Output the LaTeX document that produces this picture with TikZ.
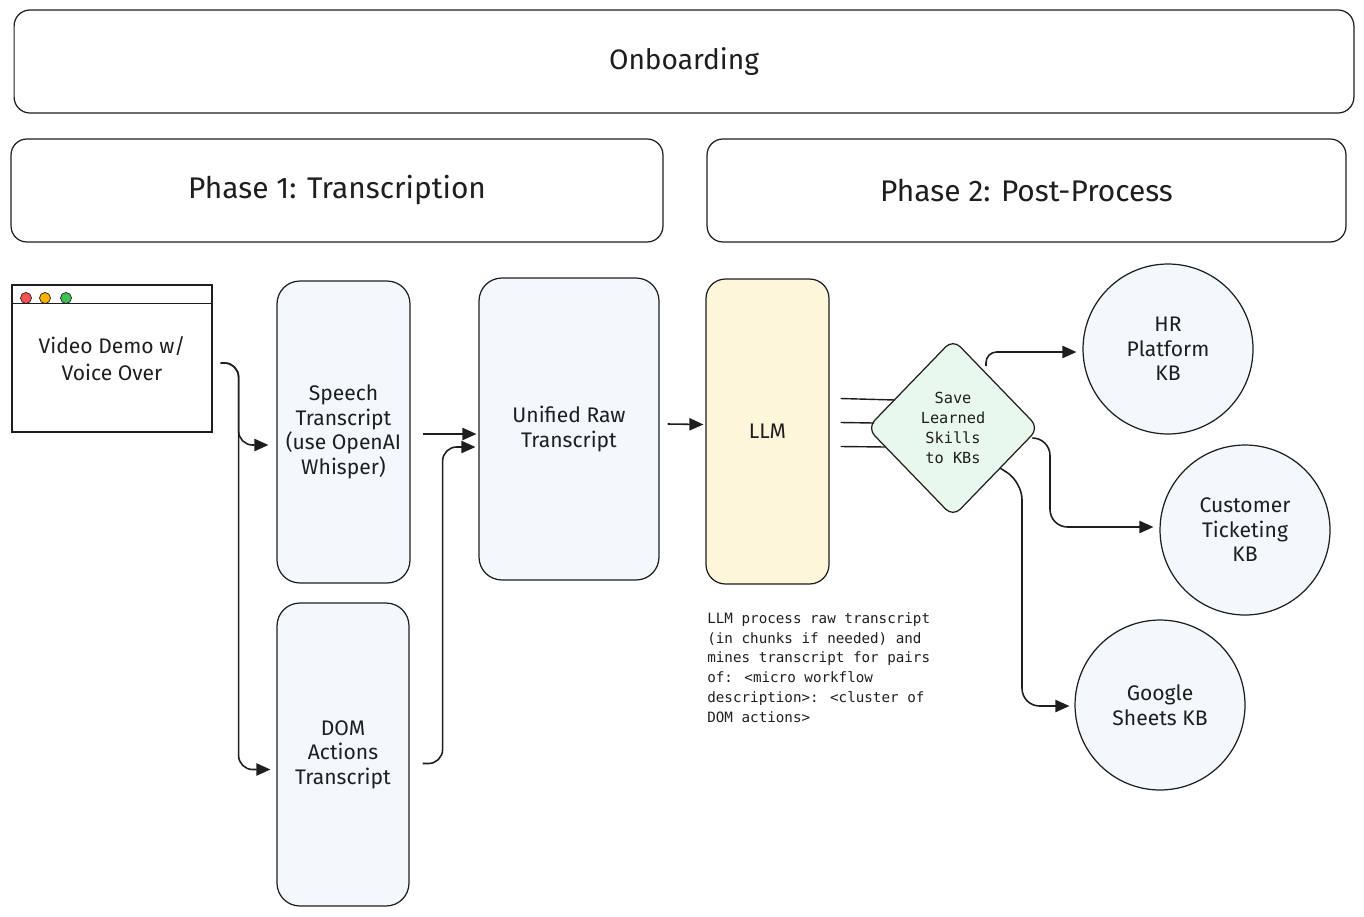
\documentclass[tikz,border=0pt]{standalone}
\usepackage{fontspec}
\setmainfont{Fira Sans}
\newfontfamily\codefont{DejaVu Sans Mono}
\usetikzlibrary{positioning,calc,arrows.meta,shapes.geometric}
\definecolor{ink}{HTML}{1E1E1E}
\definecolor{paleblue}{HTML}{F3F8FD}
\definecolor{paleyellow}{HTML}{FDF6DA}
\definecolor{palegreen}{HTML}{E9F8EC}
\definecolor{dotred}{HTML}{FA5252}
\definecolor{dotorange}{HTML}{FAB005}
\definecolor{dotgreen}{HTML}{40C057}

\begin{document}
\begin{tikzpicture}[x=0.02cm, y=-0.02cm,
  lane/.style={draw=ink, line width=0.7pt, rounded corners=9pt, minimum height=2.06cm,
    font=\fontsize{17}{20}\selectfont, text=ink},
  stage/.style={draw=ink, line width=0.7pt, fill=paleblue, rounded corners=13pt, align=center,
    font=\fontsize{12}{14}\selectfont, text=ink},
  kb/.style={circle, draw=ink, line width=0.7pt, fill=paleblue, minimum size=3.4cm, align=center,
    font=\fontsize{12}{14}\selectfont, text=ink},
  flow/.style={draw=ink, line width=0.9pt, rounded corners=8pt, -{Triangle[length=8pt,width=7pt]}},
  feed/.style={draw=ink, line width=0.8pt}]
  \useasboundingbox (0,0) rectangle (1364,916);
  % headers
  \node[lane, minimum width=26.8cm, font=\fontsize{16}{19}\selectfont] (onboard) at (684,61.5) {Onboarding};
  \node[lane, minimum width=13.04cm] (phase1) at (337,190.5) {Phase 1: Transcription};
  \node[lane, minimum width=12.78cm] (phase2) at (1026.5,190.5) {Phase 2: Post-Process};
  % browser window with the recording
  \node[draw=ink, line width=0.7pt, minimum width=4cm, minimum height=2.94cm, align=center,
    font=\fontsize{12}{15}\selectfont, text=ink] (video) at (112,358.5) {Video Demo w/\\Voice Over};
  \draw[ink, line width=0.7pt] ($(video.north west)+(0,19)$) -- ($(video.north east)+(0,19)$);
  \filldraw[draw=ink, fill=dotred] (26,298) circle (5.5);
  \filldraw[draw=ink, fill=dotorange] (45,298) circle (5.5);
  \filldraw[draw=ink, fill=dotgreen] (66,298) circle (5.5);
  % phase 1 transcripts
  \node[stage, minimum width=2.66cm, minimum height=6.04cm] (speech) at (343.5,432)
    {Speech\\Transcript\\(use OpenAI\\Whisper)};
  \node[stage, minimum width=2.64cm, minimum height=6.06cm] (dom) at (343,754.5)
    {DOM\\Actions\\Transcript};
  \node[stage, minimum width=3.6cm, minimum height=6.04cm] (unified) at (569,429)
    {Unified Raw\\Transcript};
  % phase 2
  \node[stage, fill=paleyellow, rounded corners=11pt, minimum width=2.46cm, minimum height=6.1cm]
    (llm) at (767.5,431.5) {LLM};
  \node[diamond, draw=ink, line width=0.7pt, fill=palegreen, rounded corners=6pt, inner sep=0pt,
    minimum width=3.44cm, minimum height=3.56cm, align=center, text=ink,
    font=\codefont\fontsize{8.7}{11.3}\selectfont] (save) at (953,428) {Save\\Learned\\Skills\\to KBs};
  \node[kb] (hr) at (1168,349) {HR\\Platform\\KB};
  \node[kb] (ticket) at (1245,530) {Customer\\Ticketing\\KB};
  \node[kb] (sheets) at (1160,705) {Google\\Sheets KB};
  \node[anchor=north west, align=left, text=ink, inner sep=0pt,
    font=\codefont\fontsize{8.1}{11.3}\selectfont] (note) at (707,612)
    {LLM process raw transcript\\(in chunks if needed) and\\mines transcript for pairs\\of: <micro workflow\\description>: <cluster of\\DOM actions>};
  % connectors
  \draw[flow] ($(video.east)+(8,4.5)$) -- ++(18,0) |- ($(speech.west)+(-8,13)$);
  \draw[flow] ($(video.east)+(8,4.5)$) -- ++(18,0) |- ($(dom.west)+(-6,15)$);
  \draw[flow] ($(speech.east)+(12,2)$) -- ($(unified.west)+(-2,5)$);
  \draw[flow] ($(dom.east)+(13,9)$) -- ++(20,0) |- ($(unified.west)+(-3,18)$);
  \draw[flow] ($(unified.east)+(8,-5)$) -- ($(llm.west)+(-2,-7)$);
  \draw[feed] ($(llm.east)+(11,-33)$) -- ($(save.center)+(-58,-28)$);
  \draw[feed] ($(llm.east)+(11,-9)$) -- ($(save.center)+(-79,-5)$);
  \draw[feed] ($(llm.east)+(11,15)$) -- ($(save.center)+(-67,19)$);
  \draw[flow, rounded corners=6pt] ($(save.center)+(33,-62)$) |- ($(hr.west)+(-6,3)$);
  \draw[flow, rounded corners=10pt] ($(save.center)+(80,10)$) -- ++(17,0) |- ($(ticket.west)+(-6,-3)$);
  \draw[flow, rounded corners=10pt] ($(save.center)+(47,40)$) -- ++(22,14) |- ($(sheets.west)+(-5,1)$);
\end{tikzpicture}
\end{document}
